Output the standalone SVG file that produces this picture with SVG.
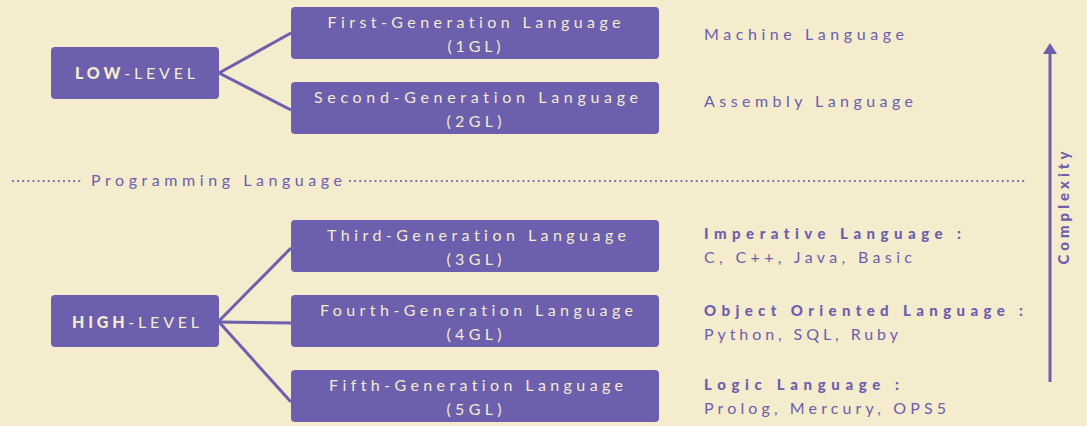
<svg xmlns="http://www.w3.org/2000/svg" width="1087" height="426" viewBox="0 0 1087 426">
<defs>
<style>
text{font-variant-ligatures:none;font-feature-settings:"liga" 0,"clig" 0}
.bg{fill:#F5EBCD}
.box{fill:#6C5FAD}
.bt{font-family:Lato,"Liberation Sans",sans-serif;font-size:16px;fill:#F5EBCD;text-anchor:middle}
.lv{font-family:Lato,"Liberation Sans",sans-serif;font-size:16px;fill:#F5EBCD;text-anchor:middle}
.b{font-weight:900}
.rt{font-family:Lato,"Liberation Sans",sans-serif;font-size:16px;fill:#6C5FAD}
.rh{font-family:Lato,"Liberation Sans",sans-serif;font-size:15px;font-weight:900;fill:#6C5FAD}
.con{stroke:#6C5FAD;stroke-width:3;fill:none}
.dots{stroke:#6C5FAD;stroke-width:2.2;stroke-linecap:round;stroke-dasharray:0 5.1;fill:none}
</style>
</defs>
<rect class="bg" x="0" y="0" width="1087" height="426"/>

<g id="connectors">
<line class="con" x1="219" y1="73" x2="291" y2="33"/>
<line class="con" x1="219" y1="73" x2="291" y2="110"/>
<line class="con" x1="219" y1="321" x2="291" y2="248"/>
<line class="con" x1="219" y1="322" x2="291" y2="323"/>
<line class="con" x1="219" y1="322" x2="291" y2="402"/>
</g>

<g id="low-level">
<rect class="box" x="51" y="47" width="168" height="52" rx="4"/>
<text class="lv" x="135" y="79" textLength="120" lengthAdjust="spacing"><tspan class="b">LOW</tspan>-LEVEL</text>
</g>
<g id="high-level">
<rect class="box" x="51" y="295" width="168" height="52" rx="4"/>
<text class="lv" x="135.5" y="328" textLength="127" lengthAdjust="spacing"><tspan class="b">HIGH</tspan>-LEVEL</text>
</g>

<g id="gen1">
<rect class="box" x="291" y="7" width="368" height="52" rx="4"/>
<text class="bt" x="474" y="28" textLength="293" lengthAdjust="spacing">First-Generation Language</text>
<text class="bt" x="474" y="52" textLength="53" lengthAdjust="spacing">(1GL)</text>
</g>
<g id="gen2">
<rect class="box" x="291" y="82" width="368" height="52" rx="4"/>
<text class="bt" x="476" y="103" textLength="324" lengthAdjust="spacing">Second-Generation Language</text>
<text class="bt" x="474" y="127" textLength="55" lengthAdjust="spacing">(2GL)</text>
</g>
<g id="gen3">
<rect class="box" x="291" y="220" width="368" height="52" rx="4"/>
<text class="bt" x="476.5" y="241" textLength="299" lengthAdjust="spacing">Third-Generation Language</text>
<text class="bt" x="474" y="265" textLength="55" lengthAdjust="spacing">(3GL)</text>
</g>
<g id="gen4">
<rect class="box" x="291" y="295" width="368" height="52" rx="4"/>
<text class="bt" x="476.5" y="316" textLength="313" lengthAdjust="spacing">Fourth-Generation Language</text>
<text class="bt" x="474" y="340" textLength="55" lengthAdjust="spacing">(4GL)</text>
</g>
<g id="gen5">
<rect class="box" x="291" y="370" width="368" height="52" rx="4"/>
<text class="bt" x="476" y="391" textLength="294" lengthAdjust="spacing">Fifth-Generation Language</text>
<text class="bt" x="474" y="415" textLength="55" lengthAdjust="spacing">(5GL)</text>
</g>

<g id="labels-right">
<text class="rt" x="704" y="40" textLength="200" lengthAdjust="spacing">Machine Language</text>
<text class="rt" x="704" y="107" textLength="209" lengthAdjust="spacing">Assembly Language</text>
<text class="rh" x="704" y="239" textLength="257" lengthAdjust="spacing">Imperative Language :</text>
<text class="rt" x="704" y="263" textLength="208" lengthAdjust="spacing">C, C++, Java, Basic</text>
<text class="rh" x="704" y="316" textLength="319" lengthAdjust="spacing">Object Oriented Language :</text>
<text class="rt" x="704" y="340" textLength="194" lengthAdjust="spacing">Python, SQL, Ruby</text>
<text class="rh" x="704" y="390" textLength="195" lengthAdjust="spacing">Logic Language :</text>
<text class="rt" x="704" y="414" textLength="242" lengthAdjust="spacing">Prolog, Mercury, OPS5</text>
</g>

<g id="divider">
<line class="dots" x1="13" y1="181" x2="80" y2="181"/>
<line class="dots" x1="350" y1="181" x2="1024" y2="181"/>
<text class="rt" x="91" y="186" textLength="251" lengthAdjust="spacing">Programming Language</text>
</g>

<g id="complexity">
<line class="con" x1="1050" y1="382" x2="1050" y2="50"/>
<polygon points="1050,43 1043,54 1057,54" fill="#6C5FAD"/>
<text class="rh" transform="translate(1069,208) rotate(-90)" x="0" y="0" text-anchor="middle" textLength="113" lengthAdjust="spacing">Complexity</text>
</g>
</svg>
